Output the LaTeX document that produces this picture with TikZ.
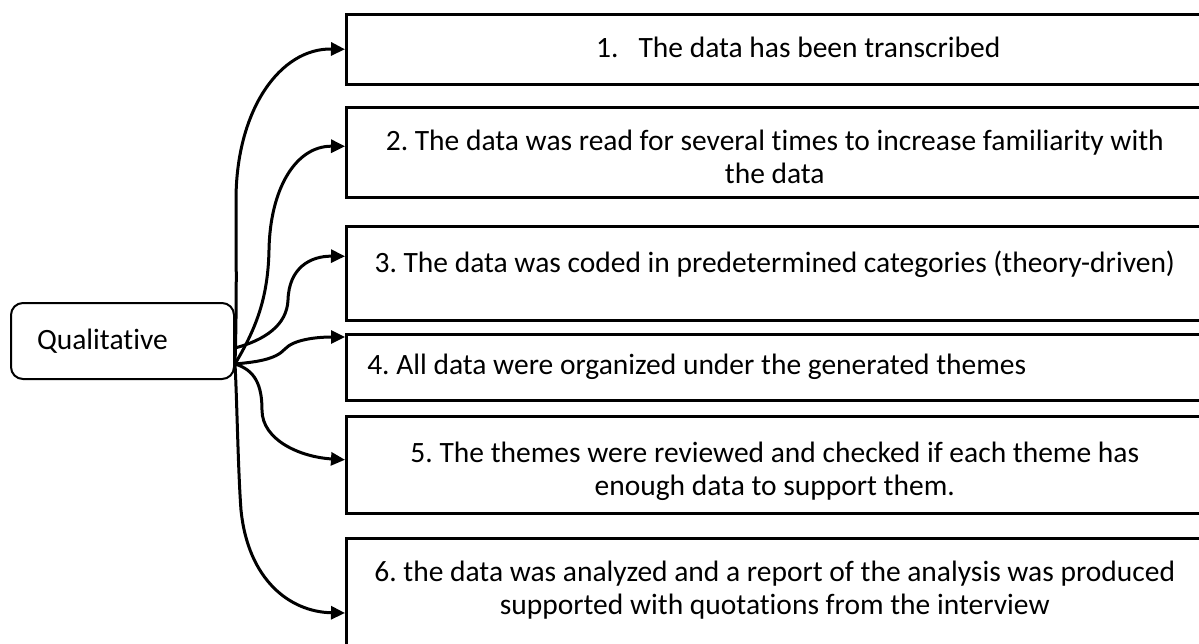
\documentclass[tikz,border=0pt]{standalone}
\usepackage{fontspec}
\setmainfont{Carlito}[Ligatures=NoCommon]
\usetikzlibrary{arrows.meta}
\frenchspacing

\begin{document}
\begin{tikzpicture}
[
	x=1pt,
	y=-1pt,
	every node/.style={font=\fontsize{29.5}{33}\selectfont},
	stepbox/.style={draw,line width=2.5pt,anchor=north west,minimum width=857pt,
		inner xsep=10pt,inner ysep=0pt,text width=837pt,align=flush center,text height=43.5pt},
	source/.style={draw,line width=2pt,rounded corners=12pt,anchor=north west,
		minimum width=223pt,minimum height=76pt,inner xsep=26pt,text width=171pt,align=flush left},
	link/.style={line width=3pt,-{Triangle[length=14pt,width=13pt]}}
]

	\useasboundingbox (0,0) rectangle (1199,643);
	\fill[white] (0,0) rectangle (1199,643);
	\clip (0,0) rectangle (1199,643);

	% steps
	\node[stepbox,text depth=26.5pt] (s1) at (345,13)
		{\hspace*{47pt}1.\hspace{20pt}The data has been transcribed};
	\node[stepbox,text depth=46.5pt] (s2) at (345,106)
		{2. The data was read for several times to increase familiarity with\\the data};
	\node[stepbox,text height=46.5pt,text depth=47.5pt] (s3) at (345,225)
		{3. The data was coded in predetermined categories (theory-driven)};
	\node[stepbox,align=flush left,inner xsep=21pt,text width=815pt,text height=40.5pt,text depth=25.5pt] (s4) at (345,333)
		{4. All data were organized under the generated themes};
	\node[stepbox,text height=46.5pt,text depth=50.5pt] (s5) at (345,415)
		{5. The themes were reviewed and checked if each theme has\\enough data to support them.};
	\node[stepbox,text depth=86.5pt] (s6) at (345,537)
		{6. the data was analyzed and a report of the analysis was produced\\supported with quotations from the interview};

	% source box
	\node[source] (qual) at (10,302) {Qualitative};
	\coordinate (fan) at ([yshift=-23pt]qual.east);

	% arrows
	\draw[link] (fan) .. controls (237,300) and (236,250) .. (236,200)
		.. controls (236,110) and (280,48) .. (s1.west);
	\draw[link] (fan) .. controls (255,330) and (268,300) .. (269,250)
		.. controls (270,190) and (295,146) .. ([yshift=6pt]s2.west);
	\draw[link] ([yshift=16pt]fan) .. controls (265,340) and (287,325) .. (288,300)
		.. controls (289,268) and (310,256) .. ([yshift=17pt]s3.west);
	\draw[link] (fan) .. controls (255,362) and (275,360) .. (285,349)
		.. controls (293,340) and (315,337) .. ([yshift=-4pt]s4.north west);
	\draw[link] (fan) .. controls (255,370) and (262,385) .. (262,410)
		.. controls (262,440) and (300,457) .. ([yshift=5pt]s5.west);
	\draw[link] (fan) .. controls (237,400) and (238,470) .. (241,510)
		.. controls (248,580) and (290,612) .. ([yshift=-76pt]s6.north west);

\end{tikzpicture}
\end{document}
